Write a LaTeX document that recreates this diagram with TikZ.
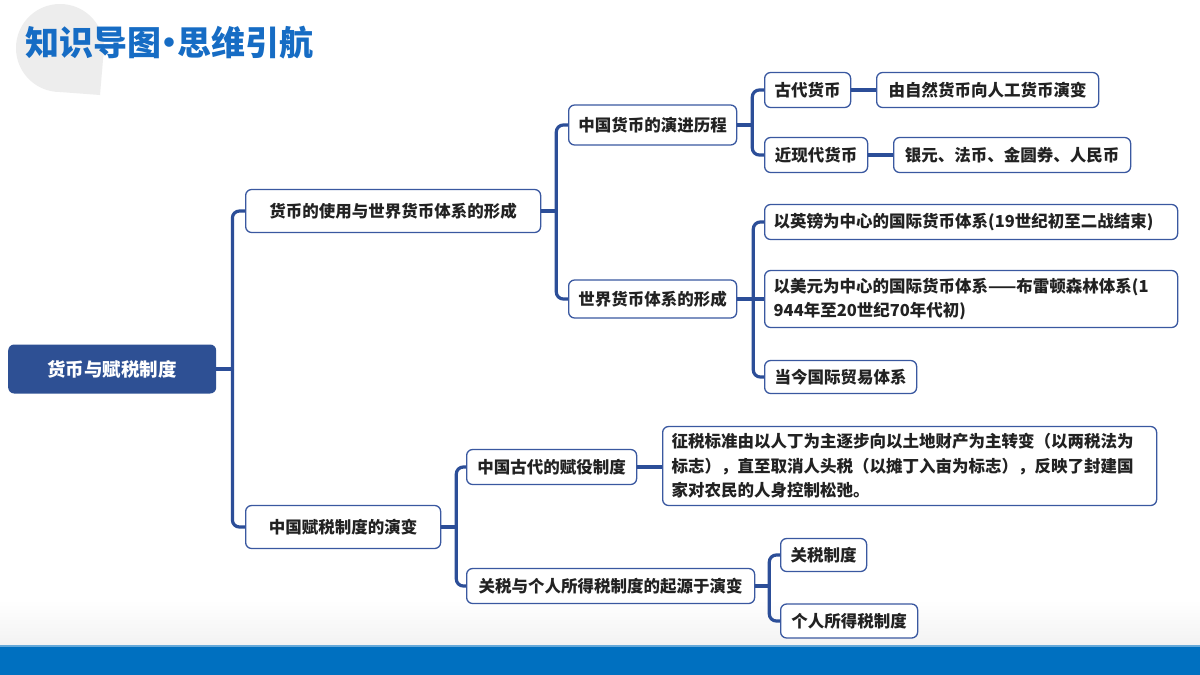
\documentclass[tikz,border=0pt]{standalone}
\usepackage{fontspec}
\setmainfont{Noto Sans CJK SC}
\definecolor{linec}{RGB}{44,78,152}
\definecolor{boxc}{RGB}{58,88,160}
\definecolor{rootc}{RGB}{46,80,148}
\definecolor{titlec}{RGB}{22,108,196}
\definecolor{barc}{RGB}{0,112,192}
\definecolor{txtc}{RGB}{34,34,34}
\tikzset{
  box/.style={draw=boxc, line width=1.3pt, fill=white, rounded corners=6pt,
    text=txtc, font=\fontsize{16.5}{20}\selectfont\bfseries, inner xsep=9pt, inner ysep=0pt, anchor=west},
  lvlone/.style={box, minimum height=43pt, align=center},
  lvltwo/.style={box, minimum height=40pt},
  lvlthree/.style={box, minimum height=35pt},
  conn/.style={draw=linec, line width=3.2pt, rounded corners=7pt},
  stub/.style={draw=linec, line width=3.2pt},
}
\begin{document}
\begin{tikzpicture}[x=1pt,y=-1pt]
\useasboundingbox (0,0) rectangle (1200,675);
% background
\fill[white] (0,0) rectangle (1200,675);
\shade[top color=white, bottom color=black!5] (0,600) rectangle (1200,646);
\fill[barc] (0,646) rectangle (1200,675);
\fill[barc!60] (0,645) rectangle (1200,647);
% title decoration
\fill[black!7] (60,48) circle (44);
\fill[black!7] (60,48) -- (104,48) -- (100,95) -- (60,92) -- cycle;
\node[font=\fontsize{34}{36}\selectfont\bfseries, text=titlec, anchor=west, inner sep=0pt] (title) at (25,43) {知识导图\kern-9pt•\kern-9pt思维引航};

% root
\node[draw=none, fill=rootc, rounded corners=6pt, text=white,
  font=\fontsize{18.5}{20}\selectfont\bfseries, minimum width=208pt, minimum height=49pt, anchor=west] (root) at (8,369) {货币与赋税制度};

% level 1
\node[lvlone, minimum width=295pt] (a) at (245,211) {货币的使用与世界货币体系的形成};
\node[lvlone, minimum width=195pt] (b) at (245,527) {中国赋税制度的演变};

% level 2
\node[lvltwo, minimum width=168pt] (a1) at (568,125) {中国货币的演进历程};
\node[lvltwo, minimum width=168pt, minimum height=38pt] (a2) at (568,299) {世界货币体系的形成};
\node[lvlthree, minimum width=170pt] (b1) at (466,467) {中国古代的赋役制度};
\node[lvlthree, minimum width=288pt] (b2) at (466,586) {关税与个人所得税制度的起源于演变};

% level 3
\node[lvlthree, minimum width=86pt] (a11) at (764,90) {古代货币};
\node[lvlthree, minimum width=103pt] (a12) at (764,155) {近现代货币};
\node[lvlthree, minimum width=222pt] (a111) at (876,90) {由自然货币向人工货币演变};
\node[lvlthree, minimum width=237pt] (a121) at (893,155) {银元、法币、金圆券、人民币};

\node[lvlthree, text width=395pt, align=left] (a21) at (764,222) {以英镑为中心的国际货币体系(19世纪初至二战结束)};
\node[lvlthree, text width=395pt, minimum height=57pt, align=left,
  font=\fontsize{16.5}{24}\selectfont\bfseries] (a22) at (764,299)
  {以美元为中心的国际货币体系——布雷顿森林体系(1\\944年至20世纪70年代初)};
\node[lvlthree, minimum width=152pt, minimum height=33pt] (a23) at (764,377) {当今国际贸易体系};

\node[lvlthree, text width=476pt, minimum height=79pt, align=left,
  font=\fontsize{16.5}{24.5}\selectfont\bfseries] (b11) at (662,466)
  {征税标准由以人丁为主逐步向以土地财产为主转变（以两税法为\\标志），直至取消人头税（以摊丁入亩为标志），反映了封建国\\家对农民的人身控制松弛。};

\node[lvlthree, minimum width=86pt, minimum height=33pt] (b21) at (780,555) {关税制度};
\node[lvlthree, minimum width=137pt, minimum height=34pt] (b22) at (780,621) {个人所得税制度};

% bus points
\coordinate (jr) at ([xshift=16pt]root.east);
\coordinate (ja) at ([xshift=15pt]a.east);
\coordinate (jb) at ([xshift=15pt]b.east);
\coordinate (ja1) at ([xshift=15pt]a1.east);
\coordinate (ja2) at ([xshift=16pt]a2.east);
\coordinate (jb2) at ([xshift=14pt]b2.east);

% connectors
\draw[stub] (root.east) -- (jr);
\draw[conn] (jr) |- (a.west);
\draw[conn] (jr) |- (b.west);
\draw[stub] (a.east) -- (ja);
\draw[conn] (ja) |- (a1.west);
\draw[conn] (ja) |- (a2.west);
\draw[stub] (b.east) -- (jb);
\draw[conn] (jb) |- (b1.west);
\draw[conn] (jb) |- (b2.west);
\draw[stub] (a1.east) -- (ja1);
\draw[conn] (ja1) |- (a11.west);
\draw[conn] (ja1) |- (a12.west);
\draw[stub] (a2.east) -- (ja2);
\draw[conn] (ja2) |- (a21.west);
\draw[stub] (ja2) -- (a22.west);
\draw[conn] (ja2) |- (a23.west);
\draw[stub] (b2.east) -- (jb2);
\draw[conn] (jb2) |- (b21.west);
\draw[conn] (jb2) |- (b22.west);
\draw[stub] (a11.east) -- (a111.west);
\draw[stub] (a12.east) -- (a121.west);
\draw[stub] (b1.east) -- (b11.west |- b1.east);
\end{tikzpicture}
\end{document}
